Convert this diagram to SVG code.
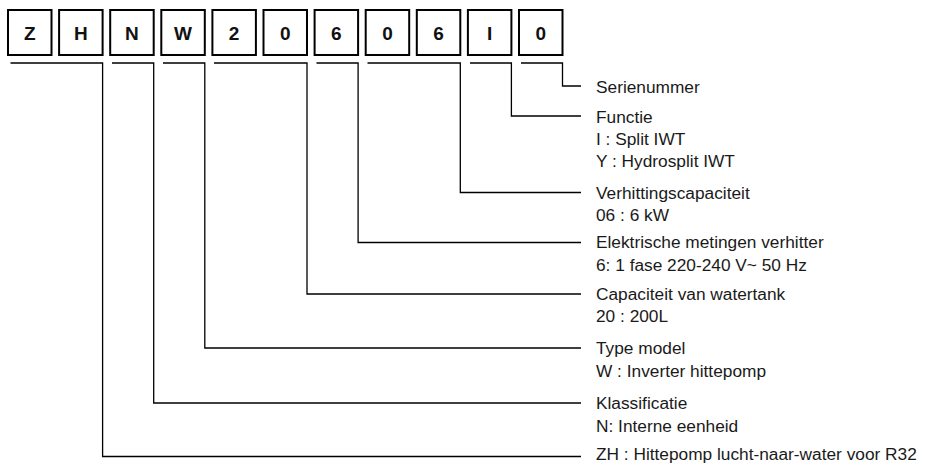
<svg xmlns="http://www.w3.org/2000/svg" width="925" height="464" viewBox="0 0 925 464">
<style>
.box{fill:#fff;stroke:#000;stroke-width:2}
.ch{font-family:"Liberation Sans",Arial,sans-serif;font-weight:bold;font-size:19px;text-anchor:middle;fill:#111}
.con{fill:none;stroke:#000;stroke-width:1.3}
.lbl{font-family:"Liberation Sans",Arial,sans-serif;font-size:17.3px;fill:#1a1a1a}
</style>
<rect width="925" height="464" fill="#fff"/>
<g id="code">
<g id="box-Z"><rect class="box" x="8" y="10" width="43.5" height="45"/><text class="ch" x="29.75" y="39.5">Z</text></g>
<g id="box-H"><rect class="box" x="59.1" y="10" width="43.5" height="45"/><text class="ch" x="80.85" y="39.5">H</text></g>
<g id="box-N"><rect class="box" x="110.2" y="10" width="43.5" height="45"/><text class="ch" x="131.95" y="39.5">N</text></g>
<g id="box-W"><rect class="box" x="161.3" y="10" width="43.5" height="45"/><text class="ch" x="183.05" y="39.5">W</text></g>
<g id="box-2"><rect class="box" x="212.4" y="10" width="43.5" height="45"/><text class="ch" x="234.15" y="39.5">2</text></g>
<g id="box-0a"><rect class="box" x="263.5" y="10" width="43.5" height="45"/><text class="ch" x="285.25" y="39.5">0</text></g>
<g id="box-6a"><rect class="box" x="314.6" y="10" width="43.5" height="45"/><text class="ch" x="336.35" y="39.5">6</text></g>
<g id="box-0b"><rect class="box" x="365.7" y="10" width="43.5" height="45"/><text class="ch" x="387.45" y="39.5">0</text></g>
<g id="box-6b"><rect class="box" x="416.8" y="10" width="43.5" height="45"/><text class="ch" x="438.55" y="39.5">6</text></g>
<g id="box-I"><rect class="box" x="467.9" y="10" width="43.5" height="45"/><text class="ch" x="489.65" y="39.5">I</text></g>
<g id="box-0c"><rect class="box" x="519" y="10" width="43.5" height="45"/><text class="ch" x="540.75" y="39.5">0</text></g>
</g>
<g id="connectors">
<path class="con" d="M10.5,63 H102.6 V456.5 H581"/>
<path class="con" d="M112,63 H153.7 V403 H581"/>
<path class="con" d="M163,63 H204.8 V348 H581"/>
<path class="con" d="M214,63 H307 V294 H581"/>
<path class="con" d="M316.5,63 H358.1 V242.5 H581"/>
<path class="con" d="M367.5,63 H460.3 V192.5 H581"/>
<path class="con" d="M470,63 H511.4 V116 H581"/>
<path class="con" d="M521,63 H562.5 V86 H581"/>
</g>
<g id="label-serienummer"><text class="lbl" x="596" y="92.5">Serienummer</text></g>
<g id="label-functie">
<text class="lbl" x="596" y="122.5">Functie</text>
<text class="lbl" x="596" y="144.5">I : Split IWT</text>
<text class="lbl" x="596" y="166.5">Y : Hydrosplit IWT</text>
</g>
<g id="label-verhitting">
<text class="lbl" x="596" y="198.5">Verhittingscapaciteit</text>
<text class="lbl" x="596" y="221">06 : 6 kW</text>
</g>
<g id="label-elektrisch">
<text class="lbl" x="596" y="248.3">Elektrische metingen verhitter</text>
<text class="lbl" x="596" y="270.5">6: 1 fase 220-240 V~ 50 Hz</text>
</g>
<g id="label-watertank">
<text class="lbl" x="596" y="299.5">Capaciteit van watertank</text>
<text class="lbl" x="596" y="321.5">20 : 200L</text>
</g>
<g id="label-type">
<text class="lbl" x="596" y="354">Type model</text>
<text class="lbl" x="596" y="377">W : Inverter hittepomp</text>
</g>
<g id="label-klass">
<text class="lbl" x="596" y="408.5">Klassificatie</text>
<text class="lbl" x="596" y="431.5">N: Interne eenheid</text>
</g>
<g id="label-zh">
<text class="lbl" x="596" y="460">ZH : Hittepomp lucht-naar-water voor R32</text>
</g>
</svg>
